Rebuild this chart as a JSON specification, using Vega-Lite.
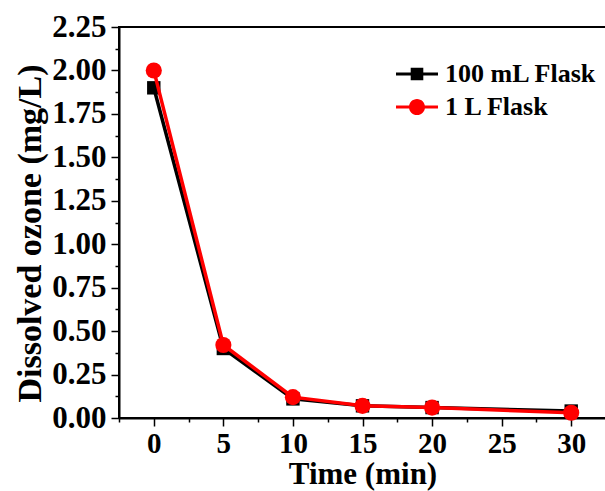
{
  "$schema": "https://vega.github.io/schema/vega-lite/v6.json",
  "width": 487,
  "height": 391,
  "autosize": {"type": "none"},
  "padding": {"left": 119, "top": 27, "right": 0, "bottom": 73},
  "background": "white",
  "config": {
    "view": {"stroke": "black", "strokeWidth": 2},
    "font": "Liberation Serif",
    "axis": {
      "grid": false,
      "domainColor": "black",
      "domainWidth": 2,
      "tickColor": "black",
      "tickWidth": 1.5,
      "labelFont": "Liberation Serif",
      "labelFontWeight": "bold",
      "labelFontSize": 31,
      "labelColor": "black",
      "titleFont": "Liberation Serif",
      "titleFontWeight": "bold",
      "titleFontSize": 34,
      "titleColor": "black"
    }
  },
  "data": {
    "values": [
      {"time": 0, "ozone": 1.90, "series": "100 mL Flask"},
      {"time": 5, "ozone": 0.40, "series": "100 mL Flask"},
      {"time": 10, "ozone": 0.11, "series": "100 mL Flask"},
      {"time": 15, "ozone": 0.07, "series": "100 mL Flask"},
      {"time": 20, "ozone": 0.06, "series": "100 mL Flask"},
      {"time": 30, "ozone": 0.04, "series": "100 mL Flask"},
      {"time": 0, "ozone": 2.00, "series": "1 L Flask"},
      {"time": 5, "ozone": 0.42, "series": "1 L Flask"},
      {"time": 10, "ozone": 0.12, "series": "1 L Flask"},
      {"time": 15, "ozone": 0.07, "series": "1 L Flask"},
      {"time": 20, "ozone": 0.06, "series": "1 L Flask"},
      {"time": 30, "ozone": 0.03, "series": "1 L Flask"}
    ]
  },
  "encoding": {
    "x": {
      "field": "time",
      "type": "quantitative",
      "scale": {"domain": [-2.5, 32.5], "nice": false, "zero": false},
      "axis": {
        "title": "Time (min)",
        "titleFontSize": 31,
        "labelFontSize": 29,
        "values": [-2.5, 0, 2.5, 5, 7.5, 10, 12.5, 15, 17.5, 20, 22.5, 25, 27.5, 30, 32.5],
        "labelExpr": "datum.value % 5 === 0 ? datum.label : ''",
        "format": "d",
        "tickSize": {"condition": {"test": "datum.value % 5 !== 0", "value": 4}, "value": 8},
        "labelPadding": 3,
        "titlePadding": 1
      }
    },
    "y": {
      "field": "ozone",
      "type": "quantitative",
      "scale": {"domain": [0, 2.25], "nice": false},
      "axis": {
        "title": "Dissolved ozone (mg/L)",
        "values": [0, 0.125, 0.25, 0.375, 0.5, 0.625, 0.75, 0.875, 1, 1.125, 1.25, 1.375, 1.5, 1.625, 1.75, 1.875, 2, 2.125, 2.25],
        "labelExpr": "datum.value % 0.25 === 0 ? format(datum.value, '.2f') : ''",
        "tickSize": {"condition": {"test": "datum.value % 0.25 !== 0", "value": 4}, "value": 8},
        "labelPadding": 5,
        "titlePadding": 4,
        "titleY": 206
      }
    },
    "color": {
      "field": "series",
      "type": "nominal",
      "scale": {"domain": ["100 mL Flask", "1 L Flask"], "range": ["black", "#ff0000"]},
      "legend": {
        "title": null,
        "orient": "none",
        "legendX": 285,
        "legendY": 34,
        "padding": 0,
        "labelFont": "Liberation Serif",
        "labelFontWeight": "bold",
        "labelFontSize": 26,
        "labelColor": "black",
        "labelOffset": 15,
        "rowPadding": 7,
        "symbolSize": 196,
        "symbolStrokeWidth": 0,
        "encode": {
          "symbols": {
            "update": {
              "shape": {"signal": "datum.value === '1 L Flask' ? 'M-3,-0.2H3V0.2H-3Z M-1.15,0A1.15,1.15 0 1,1 1.15,0A1.15,1.15 0 1,1 -1.15,0Z' : 'M-3,-0.2H3V0.2H-3Z M-0.9,-0.9H0.9V0.9H-0.9Z'"},
              "fill": {"scale": "color", "field": "value"},
              "fillOpacity": {"value": 1},
              "strokeWidth": {"value": 0},
              "opacity": {"value": 1}
            }
          }
        }
      }
    }
  },
  "layer": [
    {
      "transform": [{"filter": "datum.series === '100 mL Flask'"}],
      "mark": {"type": "line", "strokeWidth": 3.5}
    },
    {
      "transform": [{"filter": "datum.series === '100 mL Flask'"}],
      "mark": {"type": "point", "filled": true, "opacity": 1, "shape": "square", "size": 180}
    },
    {
      "transform": [{"filter": "datum.series === '1 L Flask'"}],
      "mark": {"type": "line", "strokeWidth": 3.5}
    },
    {
      "transform": [{"filter": "datum.series === '1 L Flask'"}],
      "mark": {"type": "point", "filled": true, "opacity": 1, "shape": "circle", "size": 260}
    }
  ]
}
